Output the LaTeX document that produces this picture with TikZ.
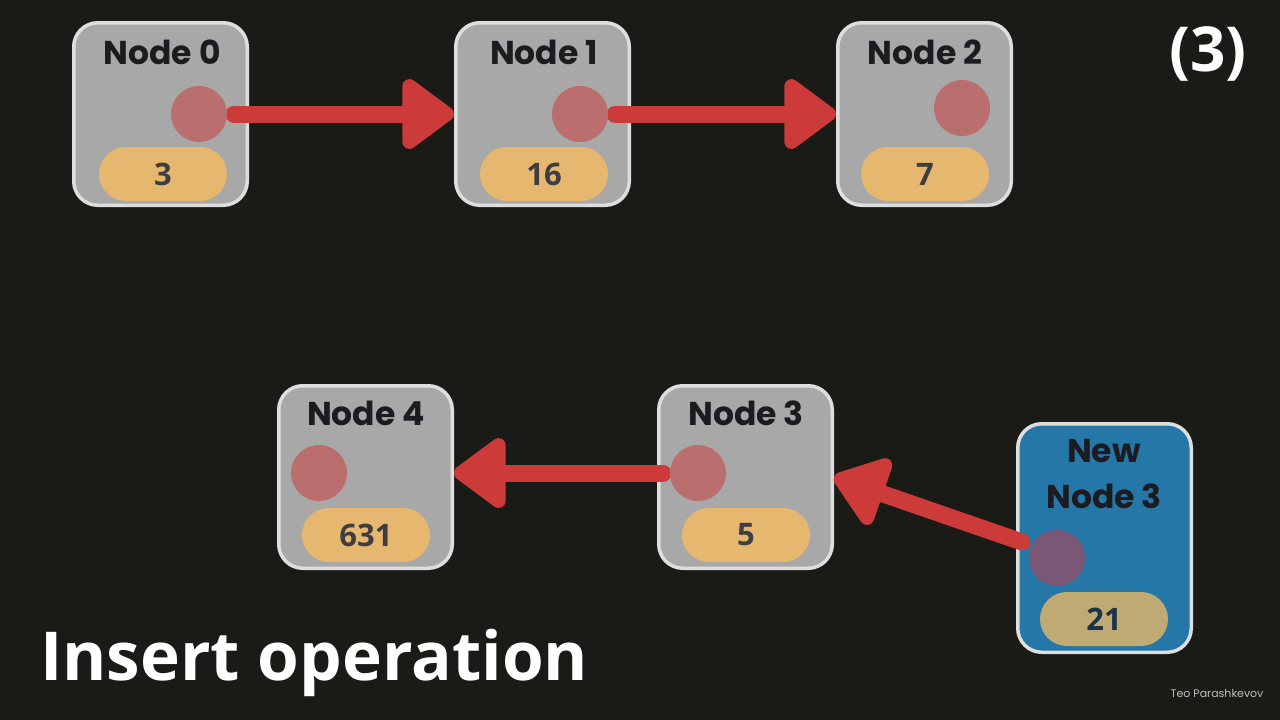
\documentclass[tikz,border=0pt]{standalone}
\usepackage{fontspec}
\setmainfont{Poppins}
\newfontfamily\numfont{Open Sans}
\usetikzlibrary{arrows.meta}
\definecolor{bgc}{HTML}{1A1B17}
\definecolor{boxfill}{HTML}{A8A8A8}
\definecolor{boxline}{HTML}{DEDEDE}
\definecolor{ptrc}{HTML}{BB6E6E}
\definecolor{pillc}{HTML}{E6B76F}
\definecolor{numc}{HTML}{3D3D42}
\definecolor{titlec}{HTML}{1C1C20}
\definecolor{redc}{HTML}{CC3A3A}
\definecolor{bluefill}{HTML}{2477A7}
\definecolor{ptrnew}{HTML}{7A5875}
\definecolor{pillnew}{HTML}{BFAA73}
\definecolor{numnew}{HTML}{1C3248}
\definecolor{footc}{HTML}{BDBDBD}
\tikzset{
  listbox/.style={draw=boxline, fill=boxfill, line width=3.5pt, rounded corners=24pt,
    minimum width=173.5pt, minimum height=182.5pt, inner sep=0pt},
  newbox/.style={listbox, fill=bluefill, minimum height=228.5pt},
  ptr/.style={circle, fill=ptrc, minimum size=56pt, inner sep=0pt},
  ptrn/.style={ptr, fill=ptrnew},
  pill/.style={rectangle, fill=pillc, rounded corners=26.9pt, minimum width=128pt,
    minimum height=54pt, inner sep=0pt, text=numc,
    font=\numfont\bfseries\fontsize{31}{31}\selectfont},
  pilln/.style={pill, fill=pillnew, text=numnew},
  ttl/.style={text=titlec, font=\bfseries\fontsize{33}{46}\selectfont, inner sep=0pt, align=center},
  arr/.style={draw=redc, line width=17pt, line cap=round,
    -{Triangle[length=57pt,width=80pt,round]}},
}
\begin{document}
\begin{tikzpicture}[x=1pt,y=-1pt]
\fill[bgc] (0,0) rectangle (1280,720);
\useasboundingbox (0,0) rectangle (1280,720);

% boxes
\node[listbox] (n0) at (160.5,114) {};
\node[listbox] (n1) at (542.5,114) {};
\node[listbox] (n2) at (924.5,114) {};
\node[listbox] (n4) at (365.5,477) {};
\node[listbox] (n3) at (745.5,477) {};
\node[newbox]  (nn) at (1104.5,538) {};

% titles
\node[ttl] (t0) at (162,52) {Node 0};
\node[ttl] (t1) at (544,52) {Node 1};
\node[ttl] (t2) at (925,52) {Node 2};
\node[ttl] (t4) at (366,413) {Node 4};
\node[ttl] (t3) at (746,413) {Node 3};
\node[ttl] (tn) at (1104,474) {New\\Node 3};

% arrows (drawn under the circles)
\draw[arr] (199+35,114) coordinate (s0) -- (n1.west |- s0);
\draw[arr] (580+35,114) coordinate (s1) -- (n2.west |- s1);
\draw[arr] (698-35,473) coordinate (s3) -- (n4.east |- s3);
\coordinate (s5) at (1022,542);
\draw[arr] (s5) -- (n3.east);

% pointer circles
\node[ptr] (c0) at (199,114) {};
\node[ptr] (c1) at (580,114) {};
\node[ptr] (c2) at (962,108) {};
\node[ptr] (c4) at (319,473) {};
\node[ptr] (c3) at (698,473) {};
\node[ptrn] (c5) at (1057,558) {};

% value pills
\node[pill] (v0) at (163,174) {3};
\node[pill] (v1) at (544,174) {16};
\node[pill] (v2) at (925,174) {7};
\node[pill] (v4) at (366,535) {631};
\node[pill] (v3) at (746,535) {5};
\node[pilln] (v5) at (1104,619) {21};

% labels
\node[text=white, font=\numfont\bfseries\fontsize{62}{62}\selectfont, inner sep=0pt] (step) at (1208,54) {(3)};
\node[text=white, font=\numfont\bfseries\fontsize{67.5}{67.5}\selectfont, inner sep=0pt, anchor=base west] (title) at (40,680) {Insert operation};
\node[text=footc, font=\fontsize{11}{11}\selectfont, inner sep=0pt] (foot) at (1217,693) {Teo Parashkevov};
\end{tikzpicture}
\end{document}
